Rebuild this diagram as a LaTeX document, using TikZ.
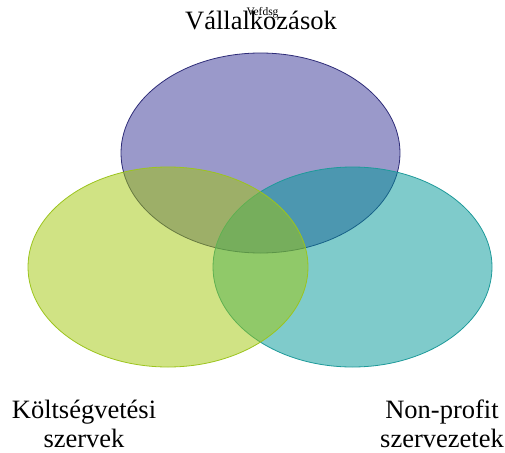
\documentclass[tikz,border=0pt]{standalone}
\usepackage{fontspec}
\setmainfont{Liberation Serif}
\begin{document}
\begin{tikzpicture}[x=1pt,y=-1pt,
  circ/.style={line width=0.8pt, fill opacity=0.5},
  lbl/.style={font=\fontsize{26.5}{29}\selectfont, align=center, inner sep=0pt}]
\definecolor{topfill}{HTML}{353395}
\definecolor{topline}{HTML}{2E2C78}
\definecolor{leftfill}{HTML}{A1C709}
\definecolor{leftline}{HTML}{9CC41E}
\definecolor{rightfill}{HTML}{009797}
\definecolor{rightline}{HTML}{1E9A9A}
\useasboundingbox (0,0) rectangle (505,452);
\draw[circ, fill=topfill, draw=topline] (260.5,153) ellipse [x radius=139.5, y radius=100];
\draw[circ, fill=rightfill, draw=rightline] (352.5,267) ellipse [x radius=139.5, y radius=100];
\draw[circ, fill=leftfill, draw=leftline] (168,267) ellipse [x radius=140, y radius=100];
\node[lbl] (t) at (261,20) {Vállalkozások};
\node[font=\fontsize{11.5}{12}\selectfont, inner sep=0pt, anchor=base] (s) at (262.5,16) {Vefdsg};
\node[lbl] (l) at (84,424) {Költségvetési\\szervek};
\node[lbl] (r) at (442,424) {Non-profit\\szervezetek};
\end{tikzpicture}
\end{document}
